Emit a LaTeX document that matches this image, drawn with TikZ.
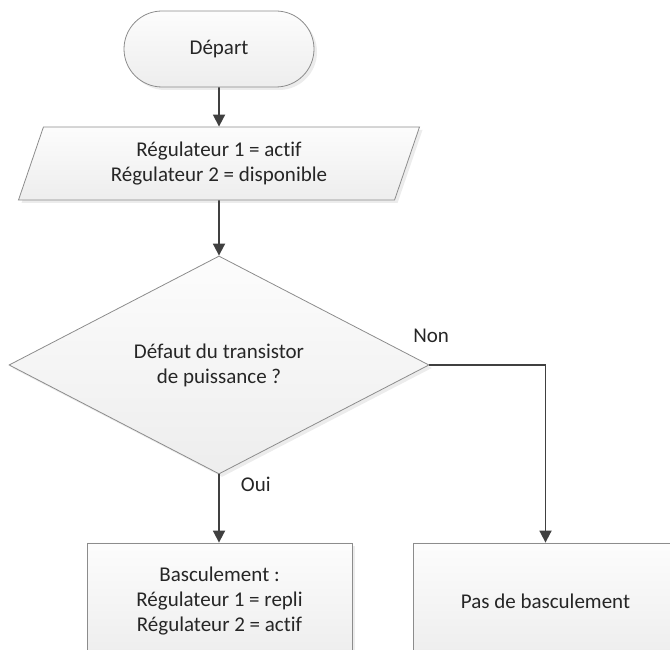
\documentclass[tikz,border=0pt]{standalone}
\usepackage{fontspec}
\setmainfont[Ligatures=NoCommon]{Carlito}
\usetikzlibrary{shapes.geometric,shapes.misc,shadows,arrows.meta,positioning}
\definecolor{linegray}{HTML}{404040}
\definecolor{bordergray}{HTML}{8C8C8C}
\tikzset{
    box/.style={draw=bordergray, line width=0.8pt, top color=gray!2, bottom color=gray!14,
        drop shadow={shadow xshift=3pt, shadow yshift=-3pt, fill=gray!30},
        align=center, text=black!85, inner sep=0pt},
    flow/.style={draw=linegray, line width=1.8pt, -{Triangle[length=12pt,width=12pt]}},
    answer/.style={text=black!85, inner sep=2pt}
}
\begin{document}
\begin{tikzpicture}[x=1pt, y=1pt, font=\fontsize{21}{25}\selectfont]
    \useasboundingbox (0,0) rectangle (670,650);
    \begin{scope}
    \clip (0,0) rectangle (670,650);
    \node[box, rounded rectangle, minimum width=190pt, minimum height=76pt] (depart) at (219,601) {Départ};
    \node[box, trapezium, trapezium left angle=60, trapezium right angle=120,
          trapezium stretches body, minimum width=401pt, minimum height=73pt] (init) at (219,486.5)
          {Régulateur 1 = actif\\Régulateur 2 = disponible};
    \node[box, diamond, minimum width=420pt, minimum height=218pt] (defaut) at (219,285)
          {Défaut du transistor\\de puissance ?};
    \node[box, rectangle, minimum width=265pt, minimum height=116pt] (bascule) at (219.5,49)
          {Basculement :\\Régulateur 1 = repli\\Régulateur 2 = actif};
    \node[box, rectangle, minimum width=265pt, minimum height=116pt] (garde) at (545.5,49)
          {Pas de basculement};

    \draw[flow] (depart) -- (init);
    \draw[flow] (init) -- (defaut);
    \draw[flow] (defaut.south) -- (bascule.north -| defaut.south)
        node[answer, pos=0.15, right=19pt] (oui) {Oui};
    \draw[flow] (defaut.east) -| (garde.north)
        node[answer, pos=0.0, above right=19pt and -19pt] (non) {Non};
    \end{scope}
\end{tikzpicture}
\end{document}
